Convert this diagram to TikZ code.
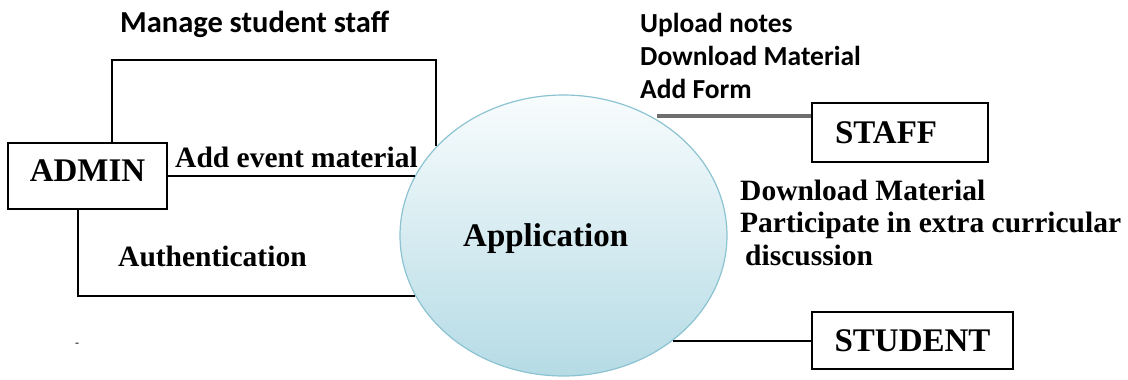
\documentclass[tikz,border=0pt]{standalone}
\usepackage{fontspec}
\setmainfont{Liberation Serif}
\newfontfamily\calfont{Carlito}
\usetikzlibrary{shapes.geometric}
\definecolor{appedge}{HTML}{8CC3D2}
\definecolor{apptop}{HTML}{F8FCFD}
\definecolor{appbot}{HTML}{B5DBE5}
\definecolor{staffline}{HTML}{6E6E6E}
\tikzstyle{ent} = [draw, line width=1.8pt, inner sep=0pt, font=\fontsize{33}{36}\selectfont\bfseries]
\tikzstyle{lbl} = [anchor=base west, inner sep=0pt, font=\fontsize{29.5}{32.5}\selectfont\bfseries]
\tikzstyle{note} = [anchor=base west, inner sep=0pt, font=\calfont\fontsize{27.5}{33}\selectfont\bfseries]
\tikzstyle{flow} = [line width=2pt]
\tikzstyle{grayflow} = [line width=3.5pt, staffline]

\begin{document}
\begin{tikzpicture}[x=1pt, y=-1pt]
\useasboundingbox (0,0) rectangle (1128,380);

\node[ellipse, draw=appedge, line width=1.2pt, top color=apptop, bottom color=appbot,
  minimum width=327pt, minimum height=281pt, inner sep=0pt] (app) at (563.5,235.5) {};
\node[lbl, font=\fontsize{33}{36}\selectfont\bfseries] (applbl) at (463,246) {Application};

\node[ent, minimum width=159pt, minimum height=66pt, text depth=10pt] (admin) at (87.5,176) {ADMIN};
\node[ent, minimum width=176pt, minimum height=59pt, text width=130pt, align=left] (staff) at (900,132.5) {STAFF};
\node[ent, minimum width=201pt, minimum height=57pt] (student) at (912.5,340.5) {STUDENT};

\draw[flow] ([xshift=24.5pt]admin.north) -- ++(0,-82) -| (app.145);
\draw[flow] (admin.east) -- (admin.east -| app.158);
\draw[flow] ([xshift=-9.5pt]admin.south) |- (app.202);
\draw[grayflow] ([yshift=16.5pt]staff.west) -- ([yshift=16.5pt]staff.west -| app.51);
\draw[flow] (student.west) -- (student.west -| app.-44);

\node[note, font=\calfont\fontsize{30.5}{33}\selectfont\bfseries] (manage) at (120,32) {Manage student staff};
\foreach \t [count=\i] in {Upload notes, Download Material, Add Form}
  \node[note] (up\i) at (640, {32+33*(\i-1)}) {\t};

\node[lbl] (addev) at (175,167) {Add event material};
\node[lbl] (auth) at (118,266) {Authentication};
\node[lbl] (dl) at (740,200) {Download Material};
\node[lbl] (part) at (740,232) {Participate in extra curricular};
\node[lbl] (disc) at (745,265) {discussion};

\node[inner sep=0pt, font=\fontsize{12}{12}\selectfont] (dash) at (77,345) {-};
\end{tikzpicture}
\end{document}
